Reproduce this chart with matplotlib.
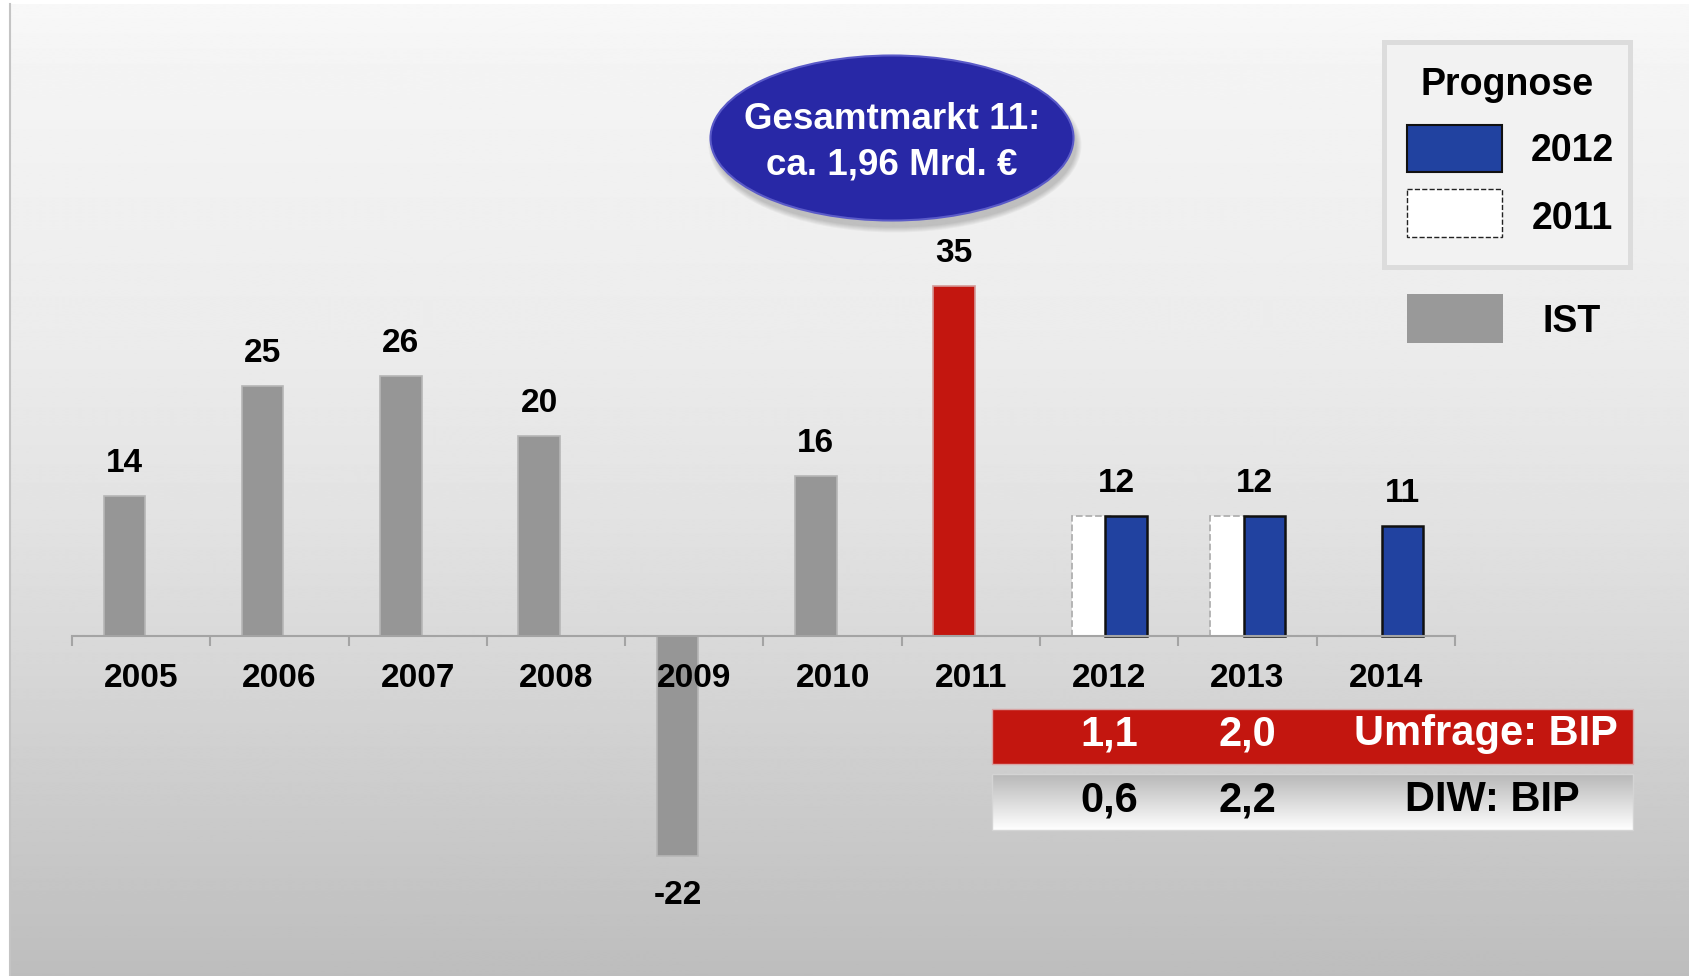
import numpy as np
import matplotlib.pyplot as plt
from matplotlib.patches import Rectangle, Ellipse
from matplotlib.colors import LinearSegmentedColormap
from matplotlib.transforms import blended_transform_factory

plt.rcParams['font.family'] = ['Liberation Sans', 'DejaVu Sans']
plt.rcParams['font.weight'] = 'bold'

# --- data ---
years = ['2005', '2006', '2007', '2008', '2009', '2010', '2011', '2012', '2013', '2014']
ist = [14, 25, 26, 20, -22, 16, 35, np.nan, np.nan, np.nan]
prognose_2011 = [np.nan] * 7 + [12, 12, np.nan]
prognose_2012 = [np.nan] * 7 + [12, 12, 11]
value_labels = ['14', '25', '26', '20', '-22', '16', '35', '12', '12', '11']
highlight_year = '2011'
legend_title = 'Prognose'
legend_names = ['2012', '2011', 'IST']
bip_years = ['2012', '2013']
umfrage_bip = ['1,1', '2,0']
diw_bip = ['0,6', '2,2']
row_names = ['Umfrage: BIP', 'DIW: BIP']
bubble_text = 'Gesamtmarkt 11:\nca. 1,96 Mrd. €'

W, H = 1690, 976
fig = plt.figure(figsize=(W / 100, H / 100), dpi=100)
fig.patch.set_facecolor('white')

# --- background panel (pixel coords) ---
bg = fig.add_axes([0, 0, 1, 1], zorder=0)
shade = np.interp(np.arange(H), [0, 60, 330, 520, 640, 976],
                  [248, 244, 236, 226, 217, 189]) / 255
bg.imshow(np.repeat(shade[:, None], 2, axis=1), cmap='gray', vmin=0, vmax=1,
          extent=(10, W, H, 4), aspect='auto', interpolation='bilinear')
bg.plot([10, 10], [4, H], color='#c4c4c4', lw=1.5)
bg.set_xlim(0, W)
bg.set_ylim(H, 0)
bg.axis('off')

# --- bar chart ---
ax = fig.add_axes([72 / W, 0, (1455 - 72) / W, 1], zorder=1)
ax.patch.set_alpha(0)
ax.set_axisbelow(False)
x = np.arange(len(years))
bar_w, off = 0.30, 0.122

ist_colors = ['#c3160f' if y == highlight_year else '#969696' for y in years]
ist_edges = ['#d49a98' if y == highlight_year else '#b6b6b6' for y in years]
ax.bar(x - off, ist, bar_w, color=ist_colors, edgecolor=ist_edges, lw=1.2, zorder=2)
ax.bar(x - off, prognose_2011, bar_w, color='white', edgecolor='#b0b0b0',
       lw=1.3, ls='--', zorder=2)
ax.bar(x + off, prognose_2012, bar_w, color='#2142a0', edgecolor='#111111',
       lw=1.8, zorder=2.2)

for i, lab in enumerate(value_labels):
    vals = [v for v in (ist[i], prognose_2011[i], prognose_2012[i]) if not np.isnan(v)]
    top = max(vals, key=abs)
    if not np.isnan(ist[i]):
        lx = i - off
    elif not np.isnan(prognose_2011[i]):
        lx = i + 0.05
    else:
        lx = i + off
    ly = top + 3.2 if top >= 0 else top - 4.0
    ax.text(lx, ly, lab, ha='center', va='center', fontsize=24, fontweight='bold')

ax.set_xlim(-0.5, len(years) - 0.5)
ax.set_ylim(-34, 63.6)
ax.set_xticks(x, years)
ax.set_xticks(np.arange(-0.5, len(years), 1), minor=True)
ax.tick_params(axis='x', which='major', length=0, pad=19.5, labelsize=24)
ax.tick_params(axis='x', which='minor', length=7, width=1.5, color='#a4a4a4')
ax.set_yticks([])
for s in ['top', 'left', 'right']:
    ax.spines[s].set_visible(False)
ax.spines['bottom'].set_position(('data', 0))
ax.spines['bottom'].set_color('#a4a4a4')
ax.spines['bottom'].set_linewidth(1.5)

# --- overlay: bubble, legend, BIP table (pixel coords) ---
ov = fig.add_axes([0, 0, 1, 1], zorder=4)
ov.patch.set_alpha(0)

cx, cy, ew, eh = 892, 138, 363, 165
for k in range(6):
    ov.add_patch(Ellipse((cx + 3, cy + 7), ew + 2 * k, eh + 2 * k,
                         color='black', alpha=0.035, lw=0))
ell = Ellipse((cx, cy), ew, eh, fc='#2828a6', ec='#5a5ac8', lw=1.5)
ov.add_patch(ell)
blue_grad = LinearSegmentedColormap.from_list(
    'bub', ['#4a4ac4', '#2b2bab', '#2626a4', '#1e1e8e'])
im = ov.imshow(np.linspace(0, 1, 100)[:, None], cmap=blue_grad, aspect='auto',
               extent=(cx - ew / 2, cx + ew / 2, cy + eh / 2, cy - eh / 2),
               interpolation='bilinear')
im.set_clip_path(ell)
ov.text(cx, cy + 4, bubble_text, ha='center', va='center', color='white',
        fontsize=26.5, fontweight='bold', linespacing=1.38)

# legend
ov.add_patch(Rectangle((1384, 42), 246, 225, fc='#f2f2f2', ec='#dcdcdc', lw=3.6))
ov.text(1507, 85, legend_title, ha='center', va='center', fontsize=27, fontweight='bold')
ov.add_patch(Rectangle((1407, 125), 95, 47, fc='#2142a0', ec='#111111', lw=1.5))
ov.add_patch(Rectangle((1407, 189), 95, 48, fc='white', ec='#222222', lw=1.0, ls='--'))
ov.add_patch(Rectangle((1407, 294), 96, 49, fc='#999999', ec='none'))
for name, ty in zip(legend_names, [151, 219, 322]):
    ov.text(1572, ty, name, ha='center', va='center', fontsize=27, fontweight='bold')

# BIP table
ov.add_patch(Rectangle((992, 709), 641, 55, fc='#c3160f', ec='#d8a4a4', lw=1))
gray_grad = LinearSegmentedColormap.from_list('row', ['#b8b8b8', '#ffffff'])
ov.imshow(np.linspace(0, 1, 100)[:, None], cmap=gray_grad, aspect='auto',
          extent=(992, 1633, 830, 774), interpolation='bilinear')
ov.add_patch(Rectangle((992, 774), 641, 56, fc='none', ec='#d4d4d4', lw=1))

tr = blended_transform_factory(ax.transData, ov.transData)
for yr, u, d in zip(bip_years, umfrage_bip, diw_bip):
    xi = years.index(yr)
    ov.text(xi, 734, u, transform=tr, ha='center', va='center', color='white',
            fontsize=30, fontweight='bold')
    ov.text(xi, 800, d, transform=tr, ha='center', va='center', color='black',
            fontsize=30, fontweight='bold')
ov.text(1486, 734, row_names[0], ha='center', va='center', color='white',
        fontsize=30, fontweight='bold')
ov.text(1492, 800, row_names[1], ha='center', va='center', color='black',
        fontsize=30, fontweight='bold')

ov.set_xlim(0, W)
ov.set_ylim(H, 0)
ov.axis('off')

fig.savefig('out.png', dpi=100)
